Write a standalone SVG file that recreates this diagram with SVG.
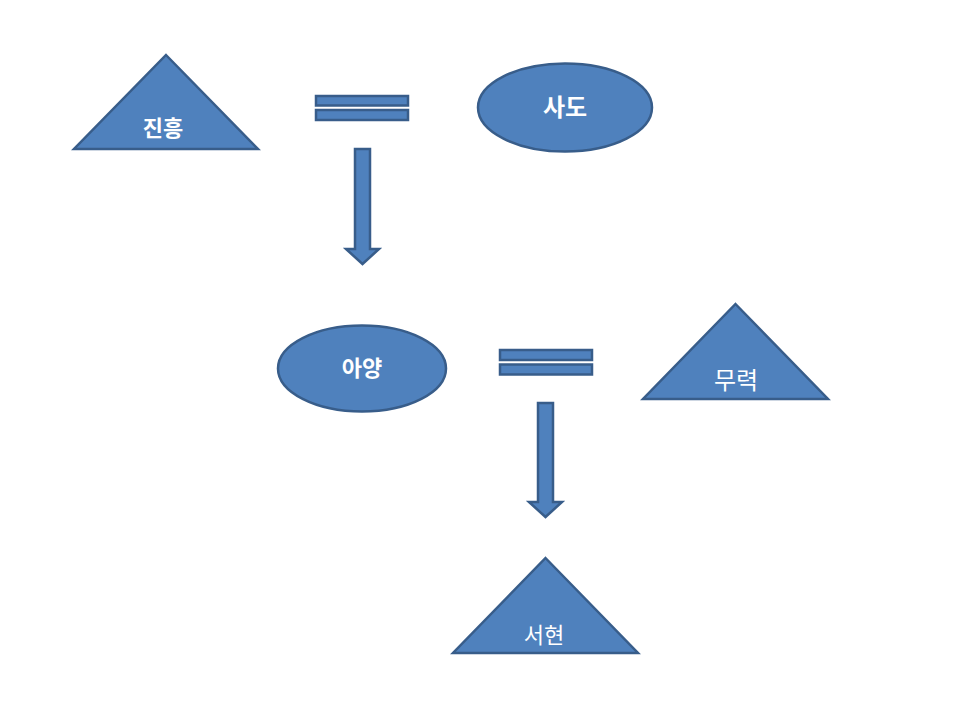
<svg xmlns="http://www.w3.org/2000/svg" width="970" height="724" viewBox="0 0 970 724">
<style>
.s{fill:#4F81BD;stroke:#385D8A;stroke-width:2.5;stroke-linejoin:miter}
.t{fill:#FFFFFF;font-family:"Noto Sans CJK KR","Noto Sans",sans-serif;text-anchor:middle}
.b{font-weight:bold}
</style>
<rect width="970" height="724" fill="#FFFFFF"/>
<g id="node-jinheung">
<polygon class="s" points="166,55 258,149 74,149"/>
<text class="t b" x="163" y="136" font-size="22">진흥</text>
</g>
<g id="node-sado">
<ellipse class="s" cx="565" cy="107.5" rx="87" ry="44"/>
<text class="t b" x="565" y="116" font-size="24">사도</text>
</g>
<g id="node-ayang">
<ellipse class="s" cx="362" cy="368.5" rx="84" ry="43"/>
<text class="t b" x="362" y="376" font-size="22">아양</text>
</g>
<g id="node-muryeok">
<polygon class="s" points="735.5,304 828,399 643,399"/>
<text class="t" x="736" y="389" font-size="24">무력</text>
</g>
<g id="node-seohyeon">
<polygon class="s" points="545.5,558 638,653 453,653"/>
<text class="t" x="544" y="643" font-size="22">서현</text>
</g>
<g id="connectors">
<rect class="s" x="316" y="96" width="92" height="9.5"/>
<rect class="s" x="316" y="110" width="92" height="10"/>
<polygon class="s" points="355,149 370,149 370,249 379,249 362.5,264 346,249 355,249"/>
<rect class="s" x="500" y="350" width="92" height="10"/>
<rect class="s" x="500" y="364.5" width="92" height="10"/>
<polygon class="s" points="538,403 553,403 553,502 562,502 545.5,517 529,502 538,502"/>
</g>
</svg>
